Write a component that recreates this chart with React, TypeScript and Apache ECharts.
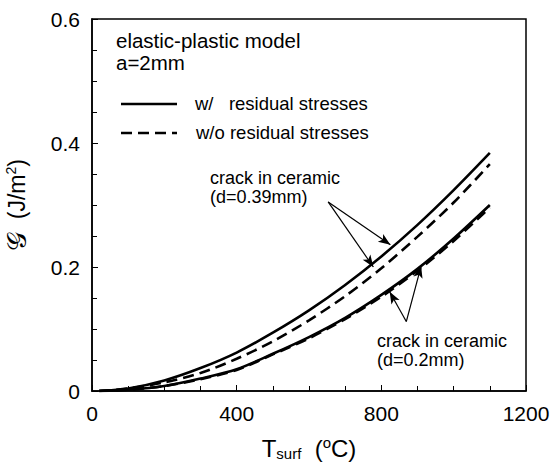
import React, { useEffect, useRef } from "react";
import * as echarts from "echarts";

const temps = [20, 100, 200, 300, 400, 500, 600, 700, 800, 900, 1000, 1100];
const upperWith = [0, 0.004, 0.017, 0.037, 0.062, 0.094, 0.13, 0.171, 0.217, 0.268, 0.324, 0.384];
const upperWithout = [0, 0.004, 0.014, 0.029, 0.052, 0.08, 0.114, 0.153, 0.198, 0.249, 0.304, 0.366];
const lowerWith = [0, 0.002, 0.008, 0.02, 0.035, 0.06, 0.087, 0.118, 0.155, 0.197, 0.246, 0.3];
const lowerWithout = [0, 0.002, 0.008, 0.019, 0.034, 0.059, 0.085, 0.116, 0.152, 0.194, 0.242, 0.296];

const xTicks = [0, 400, 800, 1200];
const yTicks = [0, 0.2, 0.4, 0.6];

// annotation arrows: [fromT, fromG, toT, toG]
const arrowsUpper = [
  [653, 0.305, 825, 0.236],
  [653, 0.305, 778, 0.2],
];
const arrowsLower = [
  [869, 0.112, 823, 0.16],
  [869, 0.112, 910, 0.2015],
];

const FONT = "'Liberation Sans', Arial, Helvetica, sans-serif";

function pairs(ys: number[]) {
  return temps.map((t, i) => [t, ys[i]]);
}

function arrowLines(list: number[][]) {
  return list.map((a) => [
    { coord: [a[0], a[1]], symbol: "none" },
    { coord: [a[2], a[3]], symbol: "arrow", symbolSize: [7, 12] },
  ]);
}

export default function App() {
  const ref = useRef<HTMLDivElement>(null);
  useEffect(() => {
    if (!ref.current) return;
    const chart = echarts.init(ref.current, undefined, { renderer: "svg" });
    const solid = { color: "#000", width: 2.6, type: "solid" as const };
    const dashed = { color: "#000", width: 2.6, type: [11, 6] as any };
    chart.setOption({
      animation: false,
      backgroundColor: "#fff",
      textStyle: { fontFamily: FONT },
      grid: {
        left: 92,
        right: 26,
        top: 19,
        bottom: 72,
        containLabel: false,
        outerBoundsMode: "none",
        show: true,
        borderColor: "#000",
        borderWidth: 1.5,
      },
      xAxis: {
        type: "value",
        min: xTicks[0],
        max: xTicks[xTicks.length - 1],
        interval: xTicks[1] - xTicks[0],
        splitLine: { show: false },
        axisLine: { lineStyle: { color: "#000", width: 1.5 } },
        axisTick: { inside: true, length: 6, lineStyle: { color: "#000" } },
        minorTick: { show: true, splitNumber: 4, length: 5, lineStyle: { color: "#000" } },
        axisLabel: {
          color: "#000",
          fontSize: 21,
          margin: 12,
          fontFamily: FONT,
          formatter: (v: number) => String(v),
        },
        name: "T{sub|surf}  ({sup|o}C)",
        nameLocation: "middle",
        nameGap: 44,
        nameTextStyle: {
          color: "#000",
          fontSize: 24,
          fontFamily: FONT,
          rich: {
            sub: { fontSize: 15, padding: [11, 0, 0, 0], fontFamily: FONT, color: "#000" },
            sup: { fontSize: 15, padding: [0, 0, 11, 0], fontFamily: FONT, color: "#000" },
          },
        },
      },
      yAxis: {
        type: "value",
        min: yTicks[0],
        max: yTicks[yTicks.length - 1],
        interval: yTicks[1] - yTicks[0],
        splitLine: { show: false },
        axisLine: { lineStyle: { color: "#000", width: 1.5 } },
        axisTick: { inside: true, length: 6, lineStyle: { color: "#000" } },
        minorTick: { show: true, splitNumber: 4, length: 5, lineStyle: { color: "#000" } },
        axisLabel: {
          color: "#000",
          fontSize: 21,
          margin: 12,
          fontFamily: FONT,
          formatter: (v: number) => (v === 0 ? "0" : v.toFixed(1)),
        },
        name: "{g|𝒢}  (J/m{sup|2})",
        nameLocation: "middle",
        nameGap: 62,
        nameRotate: 90,
        nameTextStyle: {
          color: "#000",
          fontSize: 23,
          fontFamily: FONT,
          rich: {
            g: { fontSize: 27, fontFamily: "'DejaVu Sans', 'Noto Sans', serif", color: "#000" },
            sup: { fontSize: 14, padding: [0, 0, 11, 0], fontFamily: FONT, color: "#000" },
          },
        },
      },
      series: [
        {
          type: "line",
          data: pairs(upperWith),
          smooth: 0.3,
          showSymbol: false,
          lineStyle: solid,
          markLine: {
            silent: true,
            label: { show: false },
            lineStyle: { color: "#000", width: 1.2, type: "solid" },
            data: arrowLines(arrowsUpper) as any,
          },
        },
        { type: "line", data: pairs(upperWithout), smooth: 0.3, showSymbol: false, lineStyle: dashed },
        {
          type: "line",
          data: pairs(lowerWith),
          smooth: 0.3,
          showSymbol: false,
          lineStyle: solid,
          markLine: {
            silent: true,
            label: { show: false },
            lineStyle: { color: "#000", width: 1.2, type: "solid" },
            data: arrowLines(arrowsLower) as any,
          },
        },
        { type: "line", data: pairs(lowerWithout), smooth: 0.3, showSymbol: false, lineStyle: dashed },
      ],
      graphic: [
        {
          type: "text",
          left: 116,
          top: 29,
          style: { text: "elastic-plastic model\na=2mm", font: `20.5px ${FONT}`, fill: "#000", lineHeight: 22 },
        },
        {
          type: "line",
          shape: { x1: 121, y1: 104, x2: 177, y2: 104 },
          style: { stroke: "#000", lineWidth: 2.6 },
        },
        {
          type: "text",
          left: 195,
          top: 94,
          style: { text: "w/   residual stresses", font: `18.5px ${FONT}`, fill: "#000" },
        },
        {
          type: "line",
          shape: { x1: 121, y1: 133, x2: 177, y2: 133 },
          style: { stroke: "#000", lineWidth: 2.6, lineDash: [11, 6] },
        },
        {
          type: "text",
          left: 196,
          top: 123,
          style: { text: "w/o residual stresses", font: `18.5px ${FONT}`, fill: "#000" },
        },
        {
          type: "text",
          left: 210,
          top: 168,
          style: { text: "crack in ceramic\n(d=0.39mm)", font: `18px ${FONT}`, fill: "#000", lineHeight: 19.5 },
        },
        {
          type: "text",
          left: 377,
          top: 331,
          style: { text: "crack in ceramic\n(d=0.2mm)", font: `18px ${FONT}`, fill: "#000", lineHeight: 19.5 },
        },
      ],
    });
    return () => chart.dispose();
  }, []);
  return <div ref={ref} style={{ width: 552, height: 463, position: "absolute", left: 0, top: 0 }} />;
}
